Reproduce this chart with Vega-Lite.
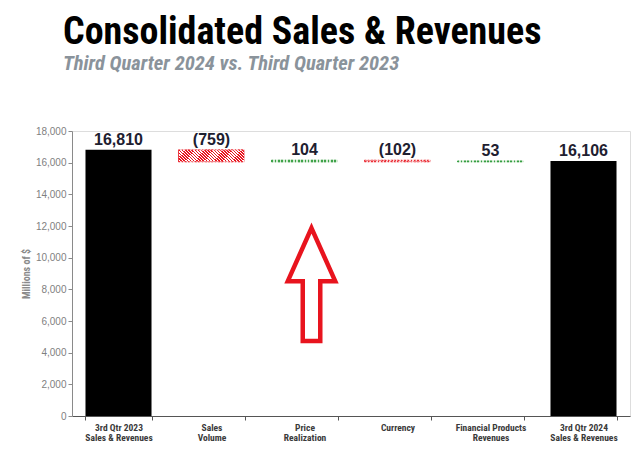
{
  "$schema": "https://vega.github.io/schema/vega-lite/v6.json",
  "width": 558,
  "height": 285,
  "autosize": {"type": "none"},
  "padding": {"left": 72, "top": 131, "right": 10, "bottom": 41},
  "background": "white",
  "config": {
    "axisY": {
      "grid": false,
      "labelFont": "Liberation Sans",
      "labelFontSize": 10,
      "labelColor": "#7f7f7f",
      "labelPadding": 2,
      "tickSize": 4,
      "tickColor": "#8a8a8a",
      "domainColor": "#8a8a8a",
      "titleFont": "Roboto Condensed",
      "titleFontSize": 10,
      "titleFontWeight": "bold",
      "titleColor": "#8a8a8a",
      "titlePadding": 4
    }
  },
  "title": {
    "text": "Consolidated Sales & Revenues",
    "subtitle": "Third Quarter 2024 vs. Third Quarter 2023",
    "anchor": "start",
    "frame": "group",
    "dx": -9,
    "offset": 52,
    "font": "Roboto Condensed",
    "fontSize": 38,
    "fontWeight": "bold",
    "color": "#000000",
    "subtitleFont": "Roboto Condensed",
    "subtitleFontSize": 20.5,
    "subtitleFontWeight": "bold",
    "subtitleFontStyle": "italic",
    "subtitleColor": "#8a939b",
    "subtitlePadding": 2
  },
  "data": {
    "values": [
      {"category": "3rd Qtr 2023|Sales & Revenues", "start": 0, "end": 16810, "label": "16,810", "type": "total"},
      {"category": "Sales|Volume", "start": 16810, "end": 16051, "label": "(759)", "type": "decrease"},
      {"category": "Price|Realization", "start": 16051, "end": 16155, "label": "104", "type": "increase"},
      {"category": "Currency", "start": 16155, "end": 16053, "label": "(102)", "type": "decrease"},
      {"category": "Financial Products|Revenues", "start": 16053, "end": 16106, "label": "53", "type": "increase"},
      {"category": "3rd Qtr 2024|Sales & Revenues", "start": 0, "end": 16106, "label": "16,106", "type": "total"}
    ]
  },
  "encoding": {
    "x": {
      "field": "category",
      "type": "nominal",
      "sort": ["3rd Qtr 2023|Sales & Revenues", "Sales|Volume", "Price|Realization", "Currency", "Financial Products|Revenues", "3rd Qtr 2024|Sales & Revenues"],
      "scale": {"domain": ["3rd Qtr 2023|Sales & Revenues", "Sales|Volume", "Price|Realization", "Currency", "Financial Products|Revenues", "3rd Qtr 2024|Sales & Revenues"], "paddingInner": 0.29, "paddingOuter": 0.145},
      "axis": {
        "title": null,
        "labelAngle": 0,
        "labelExpr": "split(datum.label, '|')",
        "labelFont": "Roboto Condensed",
        "labelFontWeight": "bold",
        "labelFontSize": 9.5,
        "labelColor": "#3a3a3a",
        "labelLineHeight": 10,
        "labelPadding": 2,
        "tickBand": "extent",
        "tickSize": 4,
        "tickColor": "#555555",
        "domainColor": "#555555",
        "grid": false
      }
    }
  },
  "layer": [
    {
      "transform": [{"filter": "datum.type == 'total'"}],
      "mark": {"type": "bar", "fill": "#000000"},
      "encoding": {
        "y": {
          "field": "start", "type": "quantitative",
          "scale": {"domain": [0, 18000], "nice": false},
          "axis": {"title": "Millions of $", "values": [0, 2000, 4000, 6000, 8000, 10000, 12000, 14000, 16000, 18000], "format": ",.0f", "labelOverlap": false}
        },
        "y2": {"field": "end"}
      }
    },
    {
      "transform": [{"filter": "datum.type == 'decrease'"}],
      "mark": {
        "type": "bar",
        "strokeWidth": 0.8,
        "fill": {
          "gradient": "linear", "x1": 0, "y1": 1, "x2": 1.154, "y2": 0.769,
          "stops": [
            {"offset": 0, "color": "#e8141e"}, {"offset": 0.02, "color": "#e8141e"}, {"offset": 0.02, "color": "#ffffff"}, {"offset": 0.04, "color": "#ffffff"},
            {"offset": 0.04, "color": "#e8141e"}, {"offset": 0.06, "color": "#e8141e"}, {"offset": 0.06, "color": "#ffffff"}, {"offset": 0.08, "color": "#ffffff"},
            {"offset": 0.08, "color": "#e8141e"}, {"offset": 0.1, "color": "#e8141e"}, {"offset": 0.1, "color": "#ffffff"}, {"offset": 0.12, "color": "#ffffff"},
            {"offset": 0.12, "color": "#e8141e"}, {"offset": 0.14, "color": "#e8141e"}, {"offset": 0.14, "color": "#ffffff"}, {"offset": 0.16, "color": "#ffffff"},
            {"offset": 0.16, "color": "#e8141e"}, {"offset": 0.18, "color": "#e8141e"}, {"offset": 0.18, "color": "#ffffff"}, {"offset": 0.2, "color": "#ffffff"},
            {"offset": 0.2, "color": "#e8141e"}, {"offset": 0.22, "color": "#e8141e"}, {"offset": 0.22, "color": "#ffffff"}, {"offset": 0.24, "color": "#ffffff"},
            {"offset": 0.24, "color": "#e8141e"}, {"offset": 0.26, "color": "#e8141e"}, {"offset": 0.26, "color": "#ffffff"}, {"offset": 0.28, "color": "#ffffff"},
            {"offset": 0.28, "color": "#e8141e"}, {"offset": 0.3, "color": "#e8141e"}, {"offset": 0.3, "color": "#ffffff"}, {"offset": 0.32, "color": "#ffffff"},
            {"offset": 0.32, "color": "#e8141e"}, {"offset": 0.34, "color": "#e8141e"}, {"offset": 0.34, "color": "#ffffff"}, {"offset": 0.36, "color": "#ffffff"},
            {"offset": 0.36, "color": "#e8141e"}, {"offset": 0.38, "color": "#e8141e"}, {"offset": 0.38, "color": "#ffffff"}, {"offset": 0.4, "color": "#ffffff"},
            {"offset": 0.4, "color": "#e8141e"}, {"offset": 0.42, "color": "#e8141e"}, {"offset": 0.42, "color": "#ffffff"}, {"offset": 0.44, "color": "#ffffff"},
            {"offset": 0.44, "color": "#e8141e"}, {"offset": 0.46, "color": "#e8141e"}, {"offset": 0.46, "color": "#ffffff"}, {"offset": 0.48, "color": "#ffffff"},
            {"offset": 0.48, "color": "#e8141e"}, {"offset": 0.5, "color": "#e8141e"}, {"offset": 0.5, "color": "#ffffff"}, {"offset": 0.52, "color": "#ffffff"},
            {"offset": 0.52, "color": "#e8141e"}, {"offset": 0.54, "color": "#e8141e"}, {"offset": 0.54, "color": "#ffffff"}, {"offset": 0.56, "color": "#ffffff"},
            {"offset": 0.56, "color": "#e8141e"}, {"offset": 0.58, "color": "#e8141e"}, {"offset": 0.58, "color": "#ffffff"}, {"offset": 0.6, "color": "#ffffff"},
            {"offset": 0.6, "color": "#e8141e"}, {"offset": 0.62, "color": "#e8141e"}, {"offset": 0.62, "color": "#ffffff"}, {"offset": 0.64, "color": "#ffffff"},
            {"offset": 0.64, "color": "#e8141e"}, {"offset": 0.66, "color": "#e8141e"}, {"offset": 0.66, "color": "#ffffff"}, {"offset": 0.68, "color": "#ffffff"},
            {"offset": 0.68, "color": "#e8141e"}, {"offset": 0.7, "color": "#e8141e"}, {"offset": 0.7, "color": "#ffffff"}, {"offset": 0.72, "color": "#ffffff"},
            {"offset": 0.72, "color": "#e8141e"}, {"offset": 0.74, "color": "#e8141e"}, {"offset": 0.74, "color": "#ffffff"}, {"offset": 0.76, "color": "#ffffff"},
            {"offset": 0.76, "color": "#e8141e"}, {"offset": 0.78, "color": "#e8141e"}, {"offset": 0.78, "color": "#ffffff"}, {"offset": 0.8, "color": "#ffffff"},
            {"offset": 0.8, "color": "#e8141e"}, {"offset": 0.82, "color": "#e8141e"}, {"offset": 0.82, "color": "#ffffff"}, {"offset": 0.84, "color": "#ffffff"},
            {"offset": 0.84, "color": "#e8141e"}, {"offset": 0.86, "color": "#e8141e"}, {"offset": 0.86, "color": "#ffffff"}, {"offset": 0.88, "color": "#ffffff"},
            {"offset": 0.88, "color": "#e8141e"}, {"offset": 0.9, "color": "#e8141e"}, {"offset": 0.9, "color": "#ffffff"}, {"offset": 0.92, "color": "#ffffff"},
            {"offset": 0.92, "color": "#e8141e"}, {"offset": 0.94, "color": "#e8141e"}, {"offset": 0.94, "color": "#ffffff"}, {"offset": 0.96, "color": "#ffffff"},
            {"offset": 0.96, "color": "#e8141e"}, {"offset": 0.98, "color": "#e8141e"}, {"offset": 0.98, "color": "#ffffff"}, {"offset": 1, "color": "#ffffff"}
          ]
        },
        "stroke": {
          "gradient": "linear", "x1": 0, "y1": 0, "x2": 1, "y2": 0,
          "stops": [
            {"offset": 0, "color": "#e8141e"}, {"offset": 0.025, "color": "#e8141e"}, {"offset": 0.025, "color": "#f7b5b8"}, {"offset": 0.05, "color": "#f7b5b8"},
            {"offset": 0.05, "color": "#e8141e"}, {"offset": 0.075, "color": "#e8141e"}, {"offset": 0.075, "color": "#f7b5b8"}, {"offset": 0.1, "color": "#f7b5b8"},
            {"offset": 0.1, "color": "#e8141e"}, {"offset": 0.125, "color": "#e8141e"}, {"offset": 0.125, "color": "#f7b5b8"}, {"offset": 0.15, "color": "#f7b5b8"},
            {"offset": 0.15, "color": "#e8141e"}, {"offset": 0.175, "color": "#e8141e"}, {"offset": 0.175, "color": "#f7b5b8"}, {"offset": 0.2, "color": "#f7b5b8"},
            {"offset": 0.2, "color": "#e8141e"}, {"offset": 0.225, "color": "#e8141e"}, {"offset": 0.225, "color": "#f7b5b8"}, {"offset": 0.25, "color": "#f7b5b8"},
            {"offset": 0.25, "color": "#e8141e"}, {"offset": 0.275, "color": "#e8141e"}, {"offset": 0.275, "color": "#f7b5b8"}, {"offset": 0.3, "color": "#f7b5b8"},
            {"offset": 0.3, "color": "#e8141e"}, {"offset": 0.325, "color": "#e8141e"}, {"offset": 0.325, "color": "#f7b5b8"}, {"offset": 0.35, "color": "#f7b5b8"},
            {"offset": 0.35, "color": "#e8141e"}, {"offset": 0.375, "color": "#e8141e"}, {"offset": 0.375, "color": "#f7b5b8"}, {"offset": 0.4, "color": "#f7b5b8"},
            {"offset": 0.4, "color": "#e8141e"}, {"offset": 0.425, "color": "#e8141e"}, {"offset": 0.425, "color": "#f7b5b8"}, {"offset": 0.45, "color": "#f7b5b8"},
            {"offset": 0.45, "color": "#e8141e"}, {"offset": 0.475, "color": "#e8141e"}, {"offset": 0.475, "color": "#f7b5b8"}, {"offset": 0.5, "color": "#f7b5b8"},
            {"offset": 0.5, "color": "#e8141e"}, {"offset": 0.525, "color": "#e8141e"}, {"offset": 0.525, "color": "#f7b5b8"}, {"offset": 0.55, "color": "#f7b5b8"},
            {"offset": 0.55, "color": "#e8141e"}, {"offset": 0.575, "color": "#e8141e"}, {"offset": 0.575, "color": "#f7b5b8"}, {"offset": 0.6, "color": "#f7b5b8"},
            {"offset": 0.6, "color": "#e8141e"}, {"offset": 0.625, "color": "#e8141e"}, {"offset": 0.625, "color": "#f7b5b8"}, {"offset": 0.65, "color": "#f7b5b8"},
            {"offset": 0.65, "color": "#e8141e"}, {"offset": 0.675, "color": "#e8141e"}, {"offset": 0.675, "color": "#f7b5b8"}, {"offset": 0.7, "color": "#f7b5b8"},
            {"offset": 0.7, "color": "#e8141e"}, {"offset": 0.725, "color": "#e8141e"}, {"offset": 0.725, "color": "#f7b5b8"}, {"offset": 0.75, "color": "#f7b5b8"},
            {"offset": 0.75, "color": "#e8141e"}, {"offset": 0.775, "color": "#e8141e"}, {"offset": 0.775, "color": "#f7b5b8"}, {"offset": 0.8, "color": "#f7b5b8"},
            {"offset": 0.8, "color": "#e8141e"}, {"offset": 0.825, "color": "#e8141e"}, {"offset": 0.825, "color": "#f7b5b8"}, {"offset": 0.85, "color": "#f7b5b8"},
            {"offset": 0.85, "color": "#e8141e"}, {"offset": 0.875, "color": "#e8141e"}, {"offset": 0.875, "color": "#f7b5b8"}, {"offset": 0.9, "color": "#f7b5b8"},
            {"offset": 0.9, "color": "#e8141e"}, {"offset": 0.925, "color": "#e8141e"}, {"offset": 0.925, "color": "#f7b5b8"}, {"offset": 0.95, "color": "#f7b5b8"},
            {"offset": 0.95, "color": "#e8141e"}, {"offset": 0.975, "color": "#e8141e"}, {"offset": 0.975, "color": "#f7b5b8"}, {"offset": 1, "color": "#f7b5b8"}
          ]
        }
      },
      "encoding": {
        "y": {"field": "start", "type": "quantitative", "axis": {"title": "Millions of $", "values": [0, 2000, 4000, 6000, 8000, 10000, 12000, 14000, 16000, 18000], "format": ",.0f", "labelOverlap": false}},
        "y2": {"field": "end"}
      }
    },
    {
      "transform": [{"filter": "datum.type == 'increase'"}],
      "mark": {
        "type": "bar",
        "strokeWidth": 1,
        "fill": {
          "gradient": "linear", "x1": 0, "y1": 0, "x2": 1, "y2": 0,
          "stops": [
            {"offset": 0, "color": "#2e9a3a"}, {"offset": 0.025, "color": "#2e9a3a"}, {"offset": 0.025, "color": "#cfe9cf"}, {"offset": 0.05, "color": "#cfe9cf"},
            {"offset": 0.05, "color": "#2e9a3a"}, {"offset": 0.075, "color": "#2e9a3a"}, {"offset": 0.075, "color": "#cfe9cf"}, {"offset": 0.1, "color": "#cfe9cf"},
            {"offset": 0.1, "color": "#2e9a3a"}, {"offset": 0.125, "color": "#2e9a3a"}, {"offset": 0.125, "color": "#cfe9cf"}, {"offset": 0.15, "color": "#cfe9cf"},
            {"offset": 0.15, "color": "#2e9a3a"}, {"offset": 0.175, "color": "#2e9a3a"}, {"offset": 0.175, "color": "#cfe9cf"}, {"offset": 0.2, "color": "#cfe9cf"},
            {"offset": 0.2, "color": "#2e9a3a"}, {"offset": 0.225, "color": "#2e9a3a"}, {"offset": 0.225, "color": "#cfe9cf"}, {"offset": 0.25, "color": "#cfe9cf"},
            {"offset": 0.25, "color": "#2e9a3a"}, {"offset": 0.275, "color": "#2e9a3a"}, {"offset": 0.275, "color": "#cfe9cf"}, {"offset": 0.3, "color": "#cfe9cf"},
            {"offset": 0.3, "color": "#2e9a3a"}, {"offset": 0.325, "color": "#2e9a3a"}, {"offset": 0.325, "color": "#cfe9cf"}, {"offset": 0.35, "color": "#cfe9cf"},
            {"offset": 0.35, "color": "#2e9a3a"}, {"offset": 0.375, "color": "#2e9a3a"}, {"offset": 0.375, "color": "#cfe9cf"}, {"offset": 0.4, "color": "#cfe9cf"},
            {"offset": 0.4, "color": "#2e9a3a"}, {"offset": 0.425, "color": "#2e9a3a"}, {"offset": 0.425, "color": "#cfe9cf"}, {"offset": 0.45, "color": "#cfe9cf"},
            {"offset": 0.45, "color": "#2e9a3a"}, {"offset": 0.475, "color": "#2e9a3a"}, {"offset": 0.475, "color": "#cfe9cf"}, {"offset": 0.5, "color": "#cfe9cf"},
            {"offset": 0.5, "color": "#2e9a3a"}, {"offset": 0.525, "color": "#2e9a3a"}, {"offset": 0.525, "color": "#cfe9cf"}, {"offset": 0.55, "color": "#cfe9cf"},
            {"offset": 0.55, "color": "#2e9a3a"}, {"offset": 0.575, "color": "#2e9a3a"}, {"offset": 0.575, "color": "#cfe9cf"}, {"offset": 0.6, "color": "#cfe9cf"},
            {"offset": 0.6, "color": "#2e9a3a"}, {"offset": 0.625, "color": "#2e9a3a"}, {"offset": 0.625, "color": "#cfe9cf"}, {"offset": 0.65, "color": "#cfe9cf"},
            {"offset": 0.65, "color": "#2e9a3a"}, {"offset": 0.675, "color": "#2e9a3a"}, {"offset": 0.675, "color": "#cfe9cf"}, {"offset": 0.7, "color": "#cfe9cf"},
            {"offset": 0.7, "color": "#2e9a3a"}, {"offset": 0.725, "color": "#2e9a3a"}, {"offset": 0.725, "color": "#cfe9cf"}, {"offset": 0.75, "color": "#cfe9cf"},
            {"offset": 0.75, "color": "#2e9a3a"}, {"offset": 0.775, "color": "#2e9a3a"}, {"offset": 0.775, "color": "#cfe9cf"}, {"offset": 0.8, "color": "#cfe9cf"},
            {"offset": 0.8, "color": "#2e9a3a"}, {"offset": 0.825, "color": "#2e9a3a"}, {"offset": 0.825, "color": "#cfe9cf"}, {"offset": 0.85, "color": "#cfe9cf"},
            {"offset": 0.85, "color": "#2e9a3a"}, {"offset": 0.875, "color": "#2e9a3a"}, {"offset": 0.875, "color": "#cfe9cf"}, {"offset": 0.9, "color": "#cfe9cf"},
            {"offset": 0.9, "color": "#2e9a3a"}, {"offset": 0.925, "color": "#2e9a3a"}, {"offset": 0.925, "color": "#cfe9cf"}, {"offset": 0.95, "color": "#cfe9cf"},
            {"offset": 0.95, "color": "#2e9a3a"}, {"offset": 0.975, "color": "#2e9a3a"}, {"offset": 0.975, "color": "#cfe9cf"}, {"offset": 1, "color": "#cfe9cf"}
          ]
        },
        "stroke": {
          "gradient": "linear", "x1": 0, "y1": 0, "x2": 1, "y2": 0,
          "stops": [
            {"offset": 0, "color": "#2e9a3a"}, {"offset": 0.025, "color": "#2e9a3a"}, {"offset": 0.025, "color": "#cfe9cf"}, {"offset": 0.05, "color": "#cfe9cf"},
            {"offset": 0.05, "color": "#2e9a3a"}, {"offset": 0.075, "color": "#2e9a3a"}, {"offset": 0.075, "color": "#cfe9cf"}, {"offset": 0.1, "color": "#cfe9cf"},
            {"offset": 0.1, "color": "#2e9a3a"}, {"offset": 0.125, "color": "#2e9a3a"}, {"offset": 0.125, "color": "#cfe9cf"}, {"offset": 0.15, "color": "#cfe9cf"},
            {"offset": 0.15, "color": "#2e9a3a"}, {"offset": 0.175, "color": "#2e9a3a"}, {"offset": 0.175, "color": "#cfe9cf"}, {"offset": 0.2, "color": "#cfe9cf"},
            {"offset": 0.2, "color": "#2e9a3a"}, {"offset": 0.225, "color": "#2e9a3a"}, {"offset": 0.225, "color": "#cfe9cf"}, {"offset": 0.25, "color": "#cfe9cf"},
            {"offset": 0.25, "color": "#2e9a3a"}, {"offset": 0.275, "color": "#2e9a3a"}, {"offset": 0.275, "color": "#cfe9cf"}, {"offset": 0.3, "color": "#cfe9cf"},
            {"offset": 0.3, "color": "#2e9a3a"}, {"offset": 0.325, "color": "#2e9a3a"}, {"offset": 0.325, "color": "#cfe9cf"}, {"offset": 0.35, "color": "#cfe9cf"},
            {"offset": 0.35, "color": "#2e9a3a"}, {"offset": 0.375, "color": "#2e9a3a"}, {"offset": 0.375, "color": "#cfe9cf"}, {"offset": 0.4, "color": "#cfe9cf"},
            {"offset": 0.4, "color": "#2e9a3a"}, {"offset": 0.425, "color": "#2e9a3a"}, {"offset": 0.425, "color": "#cfe9cf"}, {"offset": 0.45, "color": "#cfe9cf"},
            {"offset": 0.45, "color": "#2e9a3a"}, {"offset": 0.475, "color": "#2e9a3a"}, {"offset": 0.475, "color": "#cfe9cf"}, {"offset": 0.5, "color": "#cfe9cf"},
            {"offset": 0.5, "color": "#2e9a3a"}, {"offset": 0.525, "color": "#2e9a3a"}, {"offset": 0.525, "color": "#cfe9cf"}, {"offset": 0.55, "color": "#cfe9cf"},
            {"offset": 0.55, "color": "#2e9a3a"}, {"offset": 0.575, "color": "#2e9a3a"}, {"offset": 0.575, "color": "#cfe9cf"}, {"offset": 0.6, "color": "#cfe9cf"},
            {"offset": 0.6, "color": "#2e9a3a"}, {"offset": 0.625, "color": "#2e9a3a"}, {"offset": 0.625, "color": "#cfe9cf"}, {"offset": 0.65, "color": "#cfe9cf"},
            {"offset": 0.65, "color": "#2e9a3a"}, {"offset": 0.675, "color": "#2e9a3a"}, {"offset": 0.675, "color": "#cfe9cf"}, {"offset": 0.7, "color": "#cfe9cf"},
            {"offset": 0.7, "color": "#2e9a3a"}, {"offset": 0.725, "color": "#2e9a3a"}, {"offset": 0.725, "color": "#cfe9cf"}, {"offset": 0.75, "color": "#cfe9cf"},
            {"offset": 0.75, "color": "#2e9a3a"}, {"offset": 0.775, "color": "#2e9a3a"}, {"offset": 0.775, "color": "#cfe9cf"}, {"offset": 0.8, "color": "#cfe9cf"},
            {"offset": 0.8, "color": "#2e9a3a"}, {"offset": 0.825, "color": "#2e9a3a"}, {"offset": 0.825, "color": "#cfe9cf"}, {"offset": 0.85, "color": "#cfe9cf"},
            {"offset": 0.85, "color": "#2e9a3a"}, {"offset": 0.875, "color": "#2e9a3a"}, {"offset": 0.875, "color": "#cfe9cf"}, {"offset": 0.9, "color": "#cfe9cf"},
            {"offset": 0.9, "color": "#2e9a3a"}, {"offset": 0.925, "color": "#2e9a3a"}, {"offset": 0.925, "color": "#cfe9cf"}, {"offset": 0.95, "color": "#cfe9cf"},
            {"offset": 0.95, "color": "#2e9a3a"}, {"offset": 0.975, "color": "#2e9a3a"}, {"offset": 0.975, "color": "#cfe9cf"}, {"offset": 1, "color": "#cfe9cf"}
          ]
        }
      },
      "encoding": {
        "y": {"field": "start", "type": "quantitative", "axis": {"title": "Millions of $", "values": [0, 2000, 4000, 6000, 8000, 10000, 12000, 14000, 16000, 18000], "format": ",.0f", "labelOverlap": false}},
        "y2": {"field": "end"}
      }
    },
    {
      "transform": [{"filter": "datum.type != 'decrease'"}],
      "mark": {"type": "text", "baseline": "alphabetic", "dy": -5, "font": "Liberation Sans", "fontSize": 16, "fontWeight": "bold", "color": "#1e2030"},
      "encoding": {
        "y": {"field": "end", "type": "quantitative", "axis": {"title": "Millions of $", "values": [0, 2000, 4000, 6000, 8000, 10000, 12000, 14000, 16000, 18000], "format": ",.0f", "labelOverlap": false}},
        "text": {"field": "label"}
      }
    },
    {
      "transform": [{"filter": "datum.type == 'decrease'"}],
      "mark": {"type": "text", "baseline": "alphabetic", "dy": -5, "font": "Liberation Sans", "fontSize": 16, "fontWeight": "bold", "color": "#1e2030"},
      "encoding": {
        "y": {"field": "start", "type": "quantitative", "axis": {"title": "Millions of $", "values": [0, 2000, 4000, 6000, 8000, 10000, 12000, 14000, 16000, 18000], "format": ",.0f", "labelOverlap": false}},
        "text": {"field": "label"}
      }
    },
    {
      "data": {"values": [{"category": "Price|Realization", "note": "arrow"}]},
      "mark": {
        "type": "point",
        "invalid": null,
        "shape": "M 0 -1 L 0.42 -0.06 L 0.155 -0.06 L 0.155 1 L -0.155 1 L -0.155 -0.06 L -0.42 -0.06 Z",
        "size": 12769,
        "filled": true,
        "fill": "#ffffff",
        "fillOpacity": 1,
        "stroke": "#e8141e",
        "strokeOpacity": 1,
        "strokeWidth": 4.5,
        "strokeJoin": "miter",
        "opacity": 1,
        "xOffset": 7
      },
      "encoding": {
        "x": {"field": "category", "type": "nominal"},
        "y": {"datum": 8300, "type": "quantitative", "axis": {"title": "Millions of $", "values": [0, 2000, 4000, 6000, 8000, 10000, 12000, 14000, 16000, 18000], "format": ",.0f", "labelOverlap": false}}
      }
    }
  ]
}
